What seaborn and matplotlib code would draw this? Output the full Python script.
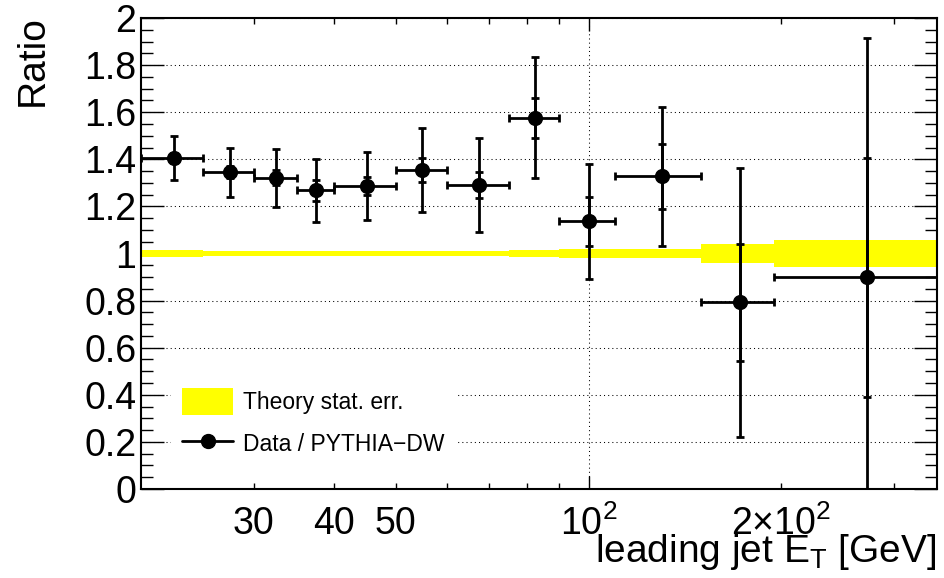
import numpy as np
import pandas as pd
import matplotlib
matplotlib.use("Agg")
import matplotlib.pyplot as plt
import seaborn as sns
from matplotlib.patches import Patch
from matplotlib.lines import Line2D
from matplotlib.ticker import FixedLocator, FixedFormatter

# ---------------- data ----------------
bin_low = [20, 25, 30, 35, 40, 50, 60, 75, 90, 110, 150, 195]
bin_high = [25, 30, 35, 40, 50, 60, 75, 90, 110, 150, 195, 350]
ratio = [1.406, 1.345, 1.321, 1.268, 1.287, 1.355, 1.291, 1.576, 1.136, 1.328, 0.793, 0.899]
err_total = [0.095, 0.103, 0.122, 0.135, 0.146, 0.178, 0.198, 0.257, 0.246, 0.296, 0.572, 1.016]
err_stat = [0.022, 0.026, 0.032, 0.043, 0.037, 0.050, 0.057, 0.084, 0.105, 0.138, 0.248, 0.507]
theory_center = [1.0, 1.0, 1.0, 1.0, 1.0, 1.0, 1.0, 1.0, 1.0, 1.0, 1.0, 1.0]
theory_err = [0.015, 0.012, 0.012, 0.012, 0.010, 0.012, 0.012, 0.016, 0.019, 0.020, 0.040, 0.058]

x_major_ticks = [100]
x_major_labels = ["10$^{2}$"]
x_minor_ticks = [30, 40, 50, 60, 70, 80, 90, 200, 300]
x_minor_labels = ["30", "40", "50", "", "", "", "", "2\u00d710$^{2}$", ""]
y_major_ticks = [0, 0.2, 0.4, 0.6, 0.8, 1.0, 1.2, 1.4, 1.6, 1.8, 2.0]
y_major_labels = ["0", "0.2", "0.4", "0.6", "0.8", "1", "1.2", "1.4", "1.6", "1.8", "2"]

legend_labels = ["Theory stat. err.", "Data / PYTHIA\u2212DW"]
x_title = "leading jet E$_{T}$ [GeV]"
y_title = "Ratio"

# ---------------- style ----------------
sns.set_theme(style="white")
plt.rcParams["font.family"] = ["Liberation Sans", "DejaVu Sans"]
plt.rcParams["mathtext.fontset"] = "custom"
plt.rcParams["mathtext.rm"] = "Liberation Sans"
plt.rcParams["mathtext.it"] = "Liberation Sans:italic"
plt.rcParams["mathtext.bf"] = "Liberation Sans:bold"
plt.rcParams["mathtext.default"] = "regular"
plt.rcParams["text.color"] = "black"
plt.rcParams["axes.labelcolor"] = "black"
plt.rcParams["xtick.color"] = "black"
plt.rcParams["ytick.color"] = "black"

df = pd.DataFrame({
    "low": bin_low, "high": bin_high, "ratio": ratio,
    "err_total": err_total, "err_stat": err_stat,
    "th_c": theory_center, "th_e": theory_err,
})
df["x"] = (df["low"] + df["high"]) / 2.0
df["width"] = df["high"] - df["low"]

W, H = 944, 578
fig = plt.figure(figsize=(W / 100, H / 100), dpi=100)
L, R, T, B = 141, 937, 18, 489
ax = fig.add_axes([L / W, (H - B) / H, (R - L) / W, (B - T) / H])
ax.set_xscale("log")

# theory band
ax.bar(df["low"], 2 * df["th_e"], bottom=df["th_c"] - df["th_e"], width=df["width"],
       align="edge", color="#ffff00", linewidth=0, zorder=1)

# data: total errors with x bins
ax.errorbar(df["x"], df["ratio"], xerr=[df["x"] - df["low"], df["high"] - df["x"]],
            yerr=df["err_total"], fmt="none", ecolor="black", elinewidth=2.0,
            capsize=2.8, capthick=2.0, zorder=3)
# stat errors (inner)
ax.errorbar(df["x"], df["ratio"], yerr=df["err_stat"], fmt="none", ecolor="black",
            elinewidth=2.0, capsize=2.8, capthick=2.0, zorder=3)
sns.scatterplot(data=df, x="x", y="ratio", ax=ax, color="black", s=120,
                edgecolor="black", linewidth=0, zorder=4, legend=False)

ax.set_xlim(20, 350)
ax.set_ylim(0, 2)

ax.xaxis.set_major_locator(FixedLocator(x_major_ticks))
ax.xaxis.set_major_formatter(FixedFormatter(x_major_labels))
ax.xaxis.set_minor_locator(FixedLocator(x_minor_ticks))
ax.xaxis.set_minor_formatter(FixedFormatter(x_minor_labels))
ax.yaxis.set_major_locator(FixedLocator(y_major_ticks))
ax.yaxis.set_major_formatter(FixedFormatter(y_major_labels))
ax.yaxis.set_minor_locator(FixedLocator(np.arange(0, 2.001, 0.05)))

ax.tick_params(axis="x", which="major", direction="in", length=9.5, width=1.0,
               top=True, bottom=True, pad=12, labelsize=27)
ax.tick_params(axis="x", which="minor", direction="in", length=4.5, width=1.0,
               top=True, bottom=True, pad=12, labelsize=27)
ax.tick_params(axis="y", which="major", direction="in", length=16.5, width=1.0,
               left=True, right=True, pad=3.5, labelsize=27)
ax.tick_params(axis="y", which="minor", direction="in", length=8.6, width=1.0,
               left=True, right=True)

ax.set_axisbelow(True)
ax.grid(True, which="major", axis="both", color="black", linestyle=(0, (1, 3)),
        linewidth=0.75)
for s in ax.spines.values():
    s.set_color("black")
    s.set_linewidth(1.5)

ax.set_xlabel(x_title, fontsize=28)
ax.xaxis.set_label_coords((936 - L) / (R - L), -(562 - B) / (B - T))
ax.xaxis.label.set_ha("right")
ax.xaxis.label.set_va("baseline")

ax.set_ylabel(y_title, fontsize=28)
ax.yaxis.label.set_rotation_mode("anchor")
ax.yaxis.set_label_coords((43 - L) / (R - L), (B - 15) / (B - T))
ax.yaxis.label.set_ha("right")
ax.yaxis.label.set_va("baseline")

handles = [
    Patch(facecolor="#ffff00", edgecolor="none", label=legend_labels[0]),
    Line2D([], [], color="black", lw=2, marker="o", markersize=10, label=legend_labels[1]),
]
ax.legend(handles=handles, loc="upper left",
          bbox_to_anchor=((171 - L) / (R - L), (B - 377) / (B - T)),
          fontsize=16.5, handlelength=2.2, handleheight=1.38, handletextpad=0.45,
          labelspacing=0.68, borderpad=0.5, borderaxespad=0, frameon=True,
          fancybox=False, framealpha=1, facecolor="white", edgecolor="none")

fig.savefig("out.png", dpi=100)
